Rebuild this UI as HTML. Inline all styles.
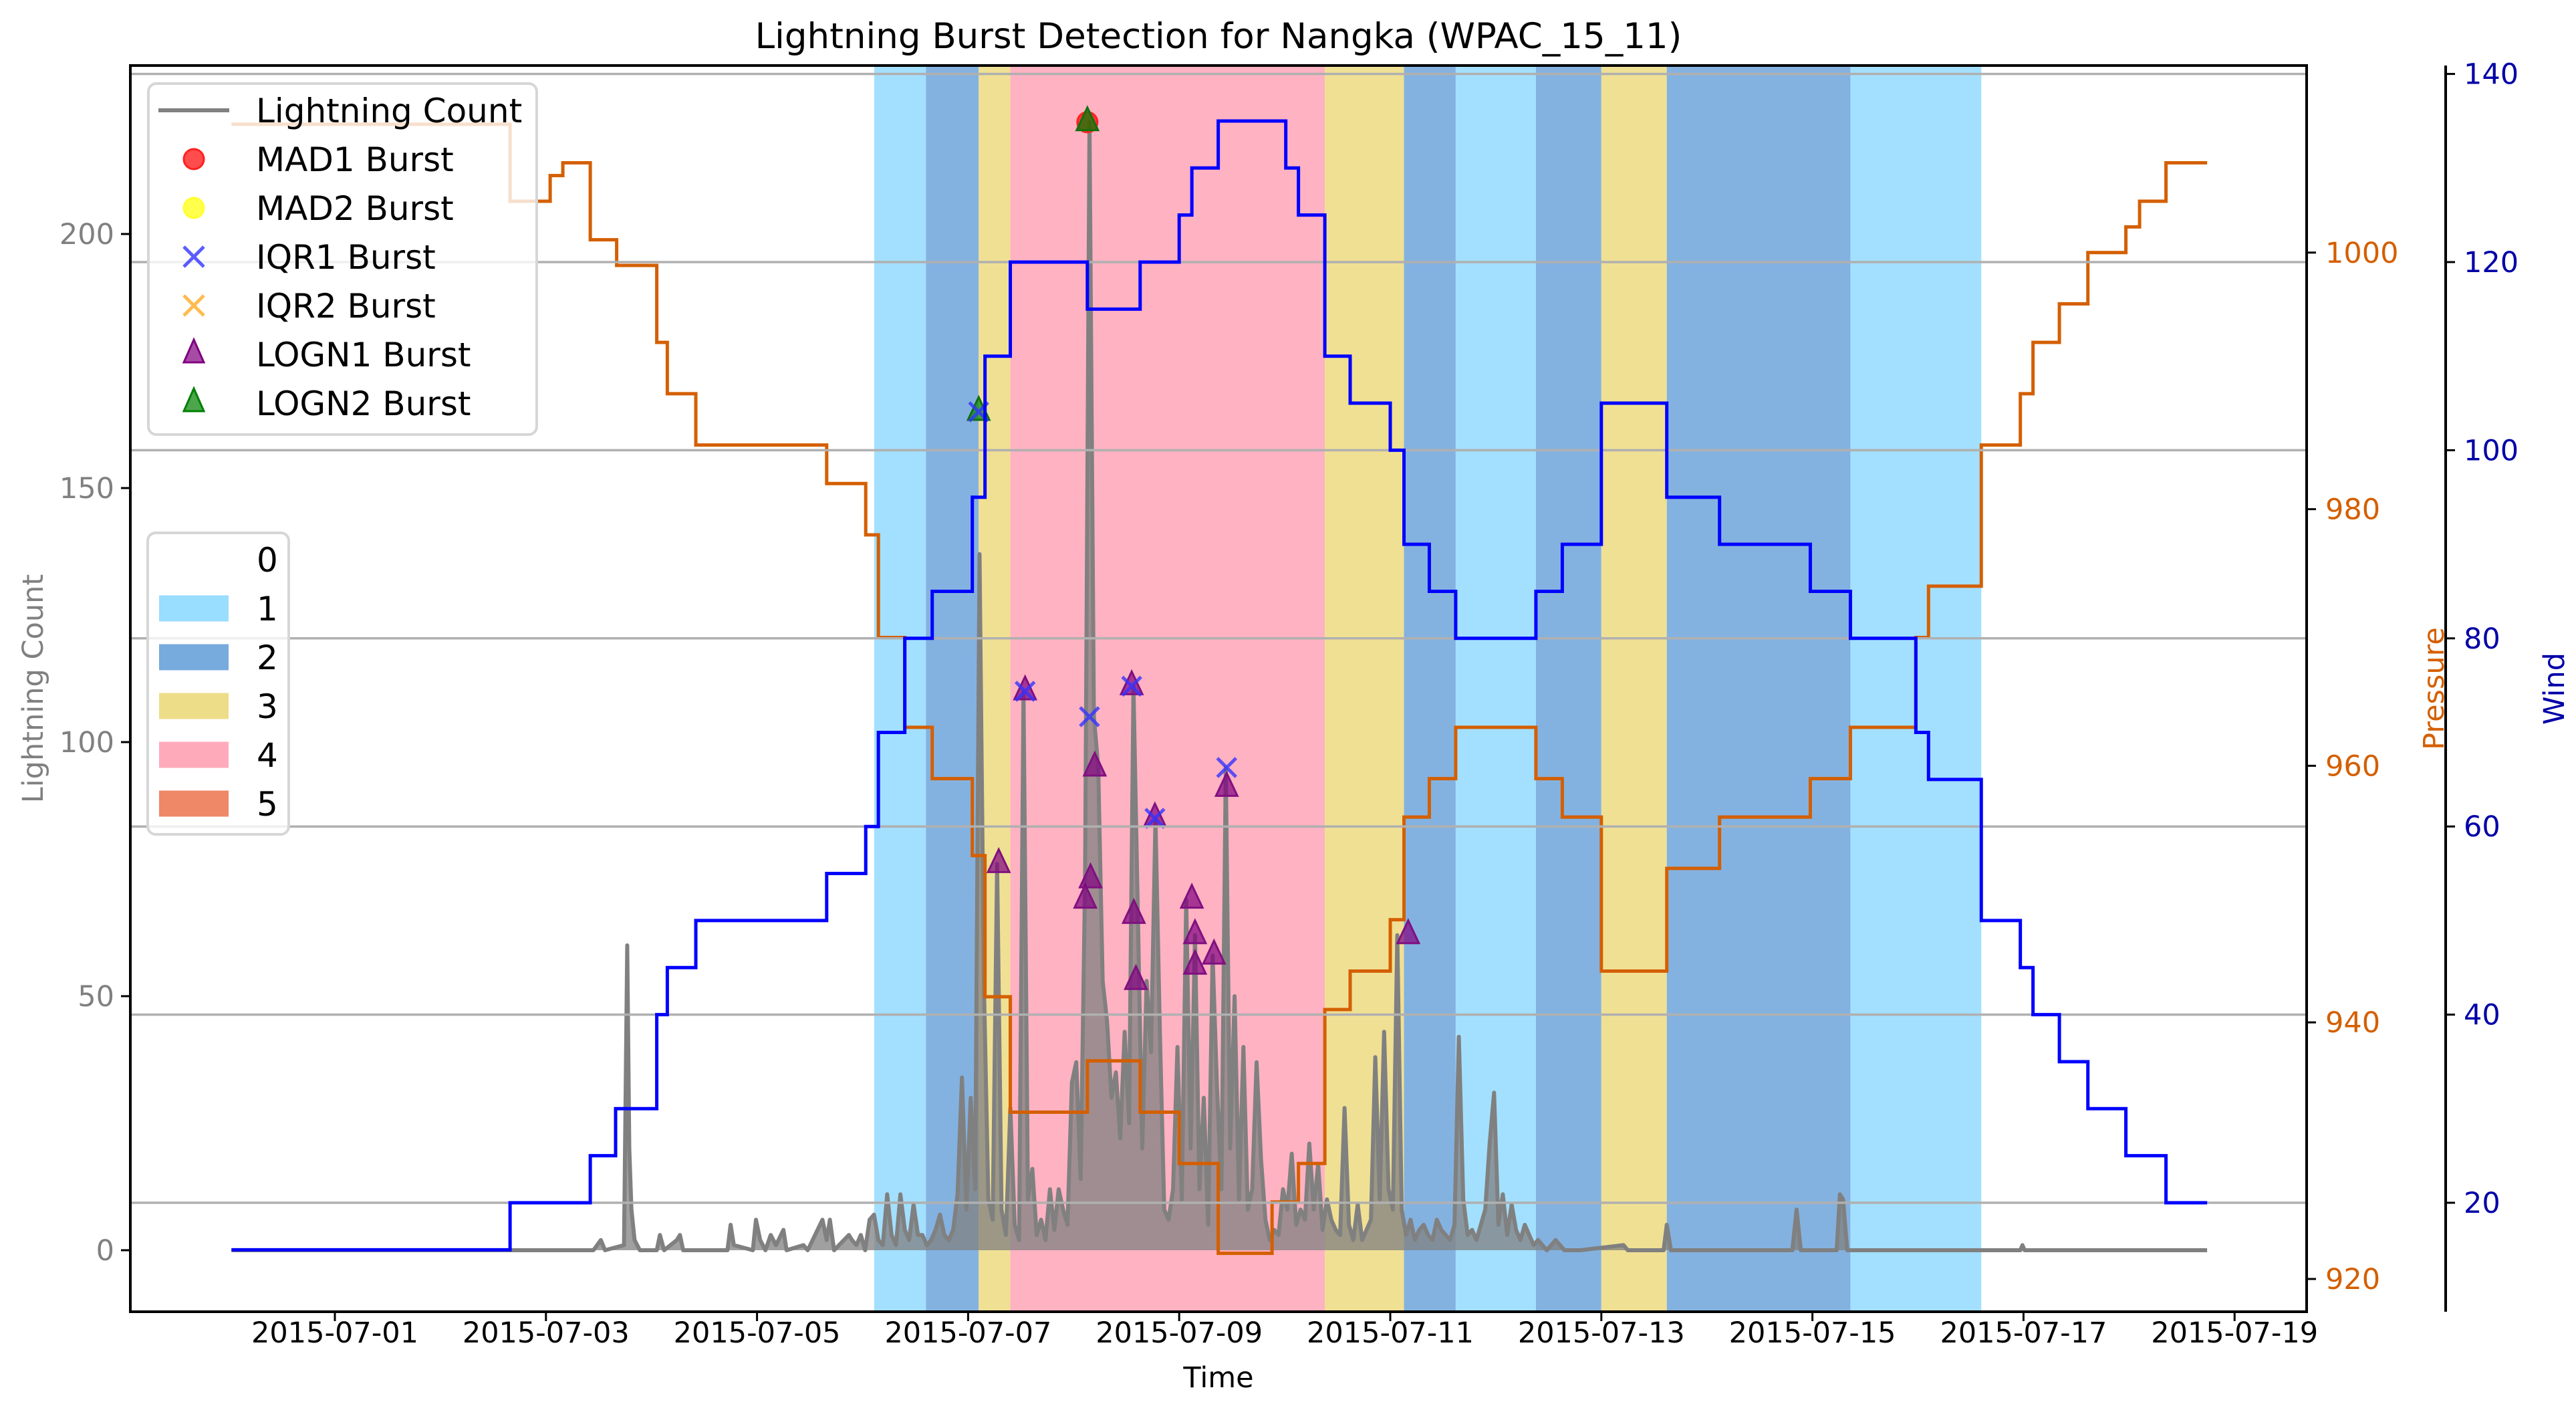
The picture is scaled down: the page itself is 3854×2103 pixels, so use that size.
<!DOCTYPE html>
<html><head><meta charset="utf-8"><style>
html,body{margin:0;padding:0;background:#fff;}
svg{display:block;font-family:"DejaVu Sans","Liberation Sans",sans-serif;}
</style></head><body>
<svg id="chart" width="3854" height="2103" viewBox="0 0 3854 2103" xmlns="http://www.w3.org/2000/svg">
<g id="spans"></g>
<g id="lightning"></g>
<g id="pressure"></g>
<g id="markers"></g>
<g id="grid"></g>
<g id="wind"></g>
<g id="axes"></g>
<g id="legends"></g>
</svg>
<script>
// ---- data ----
const xTickLabels = ["2015-07-01","2015-07-03","2015-07-05","2015-07-07","2015-07-09","2015-07-11","2015-07-13","2015-07-15","2015-07-17","2015-07-19"];
const xTickDays = [0,2,4,6,8,10,12,14,16,18];
const countTicks = [0,50,100,150,200];
const pressureTicks = [920,940,960,980,1000];
const windTicks = [20,40,60,80,100,120,140];
const spanStart = [5.11,5.60,6.10,6.40,9.38,10.13,10.62,11.38,12.00,12.62,14.36];
const spanEnd   = [5.60,6.10,6.40,9.38,10.13,10.62,11.38,12.00,12.62,14.36,15.60];
const spanCat   = [1,2,3,4,3,2,1,2,3,2,1];
const windDays = [-0.98,1.66,2.42,2.66,3.05,3.15,3.42,4.66,5.03,5.15,5.40,5.66,6.04,6.16,6.40,7.13,7.63,8.00,8.12,8.37,9.01,9.13,9.38,9.62,10.00,10.13,10.37,10.62,11.38,11.63,12.00,12.62,13.12,13.98,14.36,14.98,15.10,15.60,15.97,16.09,16.34,16.61,16.97,17.35];
const windVals = [15,20,25,30,40,45,50,55,60,70,80,85,95,110,120,115,120,125,130,135,130,125,110,105,100,90,85,80,85,90,105,95,90,85,80,70,65,50,45,40,35,30,25,20];
const windEnd = 17.74;
const presDays = [-0.98,1.66,2.04,2.16,2.42,2.67,3.05,3.15,3.42,4.66,5.03,5.15,5.40,5.66,6.04,6.16,6.40,7.13,7.63,8.00,8.37,8.88,9.13,9.38,9.62,10.00,10.13,10.37,10.62,11.38,11.63,12.00,12.62,13.12,13.98,14.36,14.98,15.10,15.60,15.97,16.09,16.34,16.61,16.97,17.10,17.22,17.35];
const presVals = [1010,1004,1006,1007,1001,999,993,989,985,982,978,970,963,959,953,942,933,937,933,929,922,926,929,941,944,948,956,959,963,959,956,944,952,956,959,963,970,974,985,989,993,996,1000,1002,1004,1004,1007];
const presEnd = 17.74;
// lightning: sparse samples before the storm core
const preDays = [-0.98,2.45,2.52,2.56,2.74,2.77,2.79,2.81,2.84,2.89,3.05,3.08,3.12,3.24,3.27,3.30,3.72,3.75,3.78,3.96,3.99,4.03,4.08,4.13,4.18,4.25,4.28,4.44,4.48,4.62,4.66,4.69,4.73,4.87];
const preVals = [0,0,2,0,1,60,20,8,2,0,0,3,0,2,3,0,0,5,1,0,6,2,0,3,1,4,0,1,0,6,2,6,0,3];
// hourly counts from day 4.90
const denseStart = 4.90;
const denseVals = [2,1,3,0,6,7,2,1,11,3,
 1,11,4,2,9,3,3,1,2,4,
 7,3,2,4,11,34,8,30,12,137,
 52,10,6,76,8,3,28,5,2,110,
 10,16,3,6,2,12,4,12,8,5,
 33,37,14,73,222,105,95,53,45,30,
 35,22,43,25,111,66,20,53,39,85,
 43,8,6,12,40,10,69,20,62,12,
 30,5,58,32,12,95,20,50,10,40,
 8,12,37,18,6,2,4,3,12,8,
 19,5,8,6,21,8,17,4,10,6,
 4,3,28,5,2,9,2,4,6,38,
 10,43,12,8,62,8,3,6,2,4,
 5,3,2,6,4,3,2,5,42,10,
 3,4,2,5,8,21,31,5,11,3,
 9,4,2,5,3,1,2,1,0,1,
 2,1,0,0];
const postDays = [11.80,12.21,12.25,12.29,12.59,12.62,12.66,13.81,13.85,13.89,14.23,14.26,14.29,14.33,15.97,15.99,16.01,17.74];
const postVals = [0,1,0,0,0,5,0,0,8,0,0,11,10,0,0,1,0,0];
const madDays=[7.13], madVals=[222];
const iqrDays=[6.10,6.54,7.15,7.55,7.77,8.45], iqrVals=[165,110,105,111,85,95];
const logn1Days=[6.29,6.54,7.11,7.16,7.20,7.55,7.57,7.59,7.77,8.12,8.15,8.15,8.33,8.45,10.17];
const logn1Vals=[76,110,69,73,95,111,66,53,85,69,62,56,58,91,62];
const logn2Days=[6.10,7.13], logn2Vals=[165,222];

// ---- layout ----
const L=195,R=3451,T=98,B=1962;
const X=d=>501+157.9*d;
const YC=c=>1870-7.6*c;
const YP=p=>1913-(p-920)*19.19;
const YW=w=>1799-(w-20)*14.07;
const catColor={1:"#99ddff",2:"#77aadd",3:"#eedd88",4:"#ffaabb",5:"#ee8866"};
const NS="http://www.w3.org/2000/svg";
function mk(tag,attrs,parent,text){const e=document.createElementNS(NS,tag);for(const k in attrs)e.setAttribute(k,attrs[k]);if(text!==undefined)e.textContent=text;parent.appendChild(e);return e;}
const g=id=>document.getElementById(id);

// spans
spanStart.forEach((s,i)=>{
  const r=mk('rect',{x:X(s),y:T,width:X(spanEnd[i])-X(s),height:B-T,fill:catColor[spanCat[i]],'fill-opacity':0.9},g('spans'));
  
  
});
// lightning
let pts=[];
preDays.forEach((d,i)=>pts.push(X(d).toFixed(1)+','+YC(preVals[i]).toFixed(1)));
denseVals.forEach((v,i)=>pts.push(X(denseStart+i/24).toFixed(1)+','+YC(v).toFixed(1)));
postDays.forEach((d,i)=>pts.push(X(d).toFixed(1)+','+YC(postVals[i]).toFixed(1)));
const firstX=X(preDays[0]).toFixed(1), lastX=X(postDays[postDays.length-1]).toFixed(1);
const lf=mk('polygon',{points:firstX+','+YC(0)+' '+pts.join(' ')+' '+lastX+','+YC(0),fill:'#808080','fill-opacity':0.75,stroke:'none'},g('lightning'));


const ll=mk('polyline',{points:pts.join(' '),fill:'none',stroke:'#808080','stroke-width':6,'stroke-linejoin':'round'},g('lightning'));


// step helper
function stepPts(days,vals,end,Y){let p=[];days.forEach((d,i)=>{const nx=i<days.length-1?days[i+1]:end;p.push(X(d)+','+Y(vals[i]));p.push(X(nx)+','+Y(vals[i]));});return p.join(' ');}
const pl=mk('polyline',{points:stepPts(presDays,presVals,presEnd,YP),fill:'none',stroke:'#d45f00','stroke-width':5},g('pressure'));


// markers
function tri(d,v,fill,stroke,name){const x=X(d),y=YC(v);const m=mk('polygon',{points:`${x},${y-22} ${x-16},${y+12} ${x+16},${y+12}`,fill:fill,'fill-opacity':0.7,stroke:stroke,'stroke-width':3},g('markers'));}
madDays.forEach((d,i)=>{const c=mk('circle',{cx:X(d),cy:YC(madVals[i]),r:15,fill:'#ff0000','fill-opacity':0.7,stroke:'#ff2020','stroke-width':3},g('markers'));});
logn1Days.forEach((d,i)=>tri(d,logn1Vals[i],'#800080','#801080','logn1-burst-marker'));
logn2Days.forEach((d,i)=>tri(d,logn2Vals[i],'#008000','#107010','logn2-burst-marker'));
iqrDays.forEach((d,i)=>{const x=X(d),y=YC(iqrVals[i]);const p=mk('path',{d:`M${x-14},${y-14}L${x+14},${y+14}M${x-14},${y+14}L${x+14},${y-14}`,stroke:'#3333ff','stroke-opacity':0.8,'stroke-width':5},g('markers'));});
// grid
windTicks.forEach(w=>{const l=mk('line',{x1:L,x2:R,y1:YW(w),y2:YW(w),stroke:'#b0b0b0','stroke-width':3.5},g('grid'));});
// wind
const wl=mk('polyline',{points:stepPts(windDays,windVals,windEnd,YW),fill:'none',stroke:'#0000ff','stroke-width':5},g('wind'));


// axes
const ax=g('axes');
const fr=mk('rect',{x:L,y:T,width:R-L,height:B-T,fill:'none',stroke:'#000','stroke-width':4},ax);


const ws=mk('line',{x1:3659,x2:3659,y1:T,y2:B,stroke:'#000','stroke-width':4},ax);


xTickDays.forEach((d,i)=>{mk('line',{x1:X(d),x2:X(d),y1:B,y2:B+14,stroke:'#000','stroke-width':3},ax);
  const t=mk('text',{x:X(d),y:2008,'font-size':43,'text-anchor':'middle',fill:'#000'},ax,xTickLabels[i]);
  });
countTicks.forEach(c=>{mk('line',{x1:L-14,x2:L,y1:YC(c),y2:YC(c),stroke:'#000','stroke-width':3},ax);
  const t=mk('text',{x:L-24,y:YC(c)+15,'font-size':43,'text-anchor':'end',fill:'#808080'},ax,String(c));
  });
pressureTicks.forEach(p=>{mk('line',{x1:R,x2:R+14,y1:YP(p),y2:YP(p),stroke:'#000','stroke-width':3},ax);
  const t=mk('text',{x:R+28,y:YP(p)+15,'font-size':43,fill:'#d45f00'},ax,String(p));
  });
windTicks.forEach(w=>{mk('line',{x1:3659,x2:3673,y1:YW(w),y2:YW(w),stroke:'#000','stroke-width':3},ax);
  const t=mk('text',{x:3686,y:YW(w)+15,'font-size':43,fill:'#0000a8'},ax,String(w));
  });
const title=mk('text',{x:(L+R)/2,y:72,'font-size':53,'text-anchor':'middle',fill:'#000'},ax,'Lightning Burst Detection for Nangka (WPAC_15_11)');

const xl=mk('text',{x:(L+R)/2,y:2075,'font-size':43,'text-anchor':'middle',fill:'#000'},ax,'Time');

const yl=mk('text',{x:0,y:0,'font-size':43,'text-anchor':'middle',fill:'#808080',transform:'translate(64,1030) rotate(-90)'},ax,'Lightning Count');

const pl2=mk('text',{x:0,y:0,'font-size':43,'text-anchor':'middle',fill:'#d45f00',transform:'translate(3656,1030) rotate(-90)'},ax,'Pressure');

const wl2=mk('text',{x:0,y:0,'font-size':43,'text-anchor':'middle',fill:'#0000a8',transform:'translate(3836,1030) rotate(-90)'},ax,'Wind');


// legends
const lg=g('legends');
const lb1=mk('rect',{x:222,y:125,width:581,height:525,rx:12,fill:'#fff','fill-opacity':0.8,stroke:'#d6d6d6','stroke-width':4},lg);

const lab1=['Lightning Count','MAD1 Burst','MAD2 Burst','IQR1 Burst','IQR2 Burst','LOGN1 Burst','LOGN2 Burst'];
lab1.forEach((s,i)=>{const cy=165+73*i,cx=290;
  if(i===0) mk('line',{x1:237,x2:343,y1:cy,y2:cy,stroke:'#808080','stroke-width':6},lg);
  if(i===1) mk('circle',{cx:cx,cy:cy,r:15,fill:'#ff0000','fill-opacity':0.7,stroke:'#ff2020','stroke-width':3},lg);
  if(i===2) mk('circle',{cx:cx,cy:cy,r:15,fill:'#ffff00','fill-opacity':0.7,stroke:'#ffff30','stroke-width':3},lg);
  if(i===3||i===4){const c=i===3?'#3333ff':'#ffaa22';mk('path',{d:`M${cx-15},${cy-15}L${cx+15},${cy+15}M${cx-15},${cy+15}L${cx+15},${cy-15}`,stroke:c,'stroke-opacity':0.8,'stroke-width':5},lg);}
  if(i===5||i===6){const f=i===5?'#800080':'#008000';mk('polygon',{points:`${cx},${cy-22} ${cx-15},${cy+12} ${cx+15},${cy+12}`,fill:f,'fill-opacity':0.7,stroke:f,'stroke-width':3},lg);}
  const t=mk('text',{x:383,y:cy+18,'font-size':50,fill:'#000'},lg,s);
  
});
const lb2=mk('rect',{x:221,y:797,width:211,height:451,rx:12,fill:'#fff','fill-opacity':0.8,stroke:'#d6d6d6','stroke-width':4},lg);

[0,1,2,3,4,5].forEach((c,i)=>{const cy=837+73*i;
  if(c>0) mk('rect',{x:238,y:cy-19.5,width:104,height:39,fill:catColor[c]},lg);
  const t=mk('text',{x:384,y:cy+18,'font-size':50,fill:'#000'},lg,String(c));
  
});
</script>
</body></html>
